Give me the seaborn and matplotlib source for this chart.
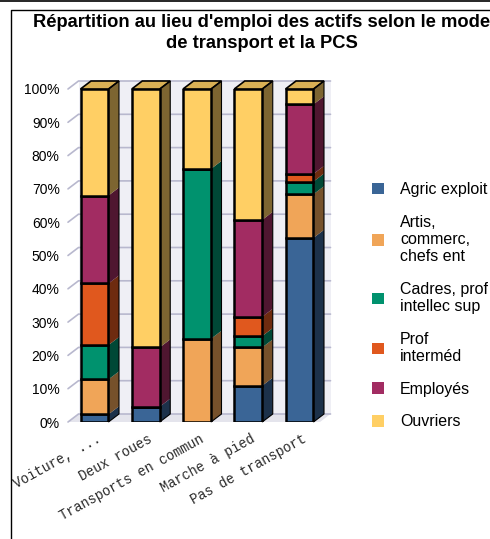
import numpy as np
import pandas as pd
import matplotlib
matplotlib.use("Agg")
import matplotlib.pyplot as plt
from matplotlib.patches import Polygon, Rectangle
from matplotlib.lines import Line2D
from matplotlib.transforms import ScaledTranslation
import seaborn as sns

modes = ["Voiture, ...", "Deux roues", "Transports en commun", "Marche à pied", "Pas de transport"]
pcs = ["Agric exploit", "Artis,\ncommerc,\nchefs ent", "Cadres, prof\nintellec sup",
       "Prof\ninterméd", "Employés", "Ouvriers"]
agric = [2.3, 4.6, 0.0, 10.9, 55.3]
artis = [10.5, 0.0, 25.0, 11.5, 13.1]
cadres = [10.3, 0.0, 51.0, 3.4, 3.8]
prof = [18.5, 0.0, 0.0, 5.8, 2.3]
employes = [26.4, 17.8, 0.0, 29.1, 20.9]
ouvriers = [32.0, 77.6, 24.0, 39.3, 4.6]
colors = ["#3A6596", "#F0A558", "#00926E", "#E0581E", "#A22C62", "#FFCF64"]
yticks = list(range(0, 101, 10))
ylabels = [f"{v}%" for v in yticks]
title = "Répartition au lieu d'emploi des actifs selon le mode\nde transport et la PCS"

series = [agric, artis, cadres, prof, employes, ouvriers]
rows = []
for p, vals in zip(pcs, series):
    for m, v in zip(modes, vals):
        rows.append({"mode": m, "pcs": p, "value": v})
df = pd.DataFrame(rows)

sns.set_theme(style="white")
plt.rcParams["font.family"] = ["Liberation Sans", "DejaVu Sans"]
plt.rcParams["text.color"] = "black"

W, H = 490, 539
fig = plt.figure(figsize=(W / 100, H / 100), dpi=100)
# front plane of the 3D box
x0px, x1px, y0px, y1px = 68, 320, 422, 89
ax = fig.add_axes([x0px / W, 1 - y0px / H, (x1px - x0px) / W, (y0px - y1px) / H])

bw = 0.546
xmin, xmax = -0.517, 4.4
ddx = 10.5 / ((x1px - x0px) / (xmax - xmin))   # depth in data units
ddy = 8.0 / ((y0px - y1px) / 100.0)

def shade(c, f):
    r, g, b = matplotlib.colors.to_rgb(c)
    return (r * f, g * f, b * f)

# back wall, floor, gridlines
wall = Rectangle((xmin + ddx, ddy), xmax - xmin, 100, facecolor="#EFEFF5",
                 edgecolor="none", zorder=0, clip_on=False)
ax.add_patch(wall)
floor = Polygon([(xmin, 0), (xmax, 0), (xmax + ddx, ddy), (xmin + ddx, ddy)],
                closed=True, facecolor="#E4E4EC", edgecolor="none", zorder=0.5, clip_on=False)
ax.add_patch(floor)
for yv in yticks:
    ax.add_line(Line2D([xmin, xmin + ddx, xmax + ddx], [yv, yv + ddy, yv + ddy],
                       color="#B8B8CE", lw=1.2, zorder=0.6, clip_on=False))

# stacked front faces with seaborn
bottoms = np.zeros(len(modes))
for p, vals, c in zip(pcs, series, colors):
    sub = df[df["pcs"] == p]
    sns.barplot(data=sub, x="mode", y="value", order=modes, color=c, width=bw,
                bottom=bottoms.copy(), edgecolor="black", linewidth=1.8,
                errorbar=None, ax=ax, zorder=3, saturation=1)
    bottoms += np.array(vals)

# 3D side and top faces
bottoms = np.zeros(len(modes))
for vals, c in zip(series, colors):
    for i, v in enumerate(vals):
        if v <= 0:
            continue
        b = bottoms[i]
        xr = i + bw / 2
        side = Polygon([(xr, b), (xr, b + v), (xr + ddx, b + v + ddy), (xr + ddx, b + ddy)],
                       closed=True, facecolor=shade(c, 0.49), edgecolor="none",
                       zorder=2, clip_on=False)
        ax.add_patch(side)
    bottoms += np.array(vals)
for i in range(len(modes)):
    tot = bottoms[i]
    xl, xr = i - bw / 2, i + bw / 2
    top_c = colors[-1]
    for vals, c in zip(series[::-1], colors[::-1]):
        if vals[i] > 0:
            top_c = c
            break
    topf = Polygon([(xl, tot), (xr, tot), (xr + ddx, tot + ddy), (xl + ddx, tot + ddy)],
                   closed=True, facecolor=shade(top_c, 0.85), edgecolor="black",
                   linewidth=1.2, zorder=2.5, clip_on=False)
    ax.add_patch(topf)
    outline = Polygon([(xr, 0), (xr, tot), (xr + ddx, tot + ddy), (xr + ddx, ddy)],
                      closed=True, facecolor="none", edgecolor="black",
                      linewidth=0.8, zorder=2.6, clip_on=False)
    ax.add_patch(outline)

ax.set_xlim(xmin, xmax)
ax.set_ylim(0, 100)
ax.set_yticks(yticks)
ax.set_yticklabels(ylabels, fontsize=10, color="black")
ax.set_xticks(range(len(modes)))
ax.set_xticklabels(modes, rotation=29, ha="right", rotation_mode="anchor",
                   fontsize=9.8, family=["Liberation Mono", "DejaVu Sans Mono"], color="#2a2a2a")
ax.tick_params(axis="y", length=0, pad=6)
ax.tick_params(axis="x", length=0, pad=9)
shift = ScaledTranslation(0.055, -0.035, fig.dpi_scale_trans)
for lbl in ax.get_xticklabels():
    lbl.set_va("center")
    lbl.set_transform(lbl.get_transform() + shift)
ax.set_xlabel("")
ax.set_ylabel("")
for s in ax.spines.values():
    s.set_visible(False)
ax.grid(False)
ax.patch.set_visible(False)

# legend
handles = [Rectangle((0, 0), 1, 1, facecolor=c, edgecolor="none") for c in colors]
fig.legend(handles, pcs, loc="upper left", bbox_to_anchor=(372 / W, 1 - 182 / H),
           frameon=False, fontsize=11.5, handlelength=0.75, handleheight=0.75,
           handletextpad=1.0, labelspacing=1.1, borderpad=0, borderaxespad=0,
           labelcolor="black")

fig.text(262 / W, 1 - 33 / H, title, ha="center", va="center", fontsize=13.2,
         fontweight="bold", linespacing=1.25, color="black")

# frame lines
fig.add_artist(Line2D([0, 1], [1 - 0.8 / H, 1 - 0.8 / H], color="black", lw=1.2,
                      transform=fig.transFigure))
fig.add_artist(Line2D([11 / W, 11 / W, 1], [0, 1 - 9.5 / H, 1 - 9.5 / H], color="black",
                      lw=1.0, transform=fig.transFigure))

fig.savefig("out.png", dpi=100, facecolor="white")
